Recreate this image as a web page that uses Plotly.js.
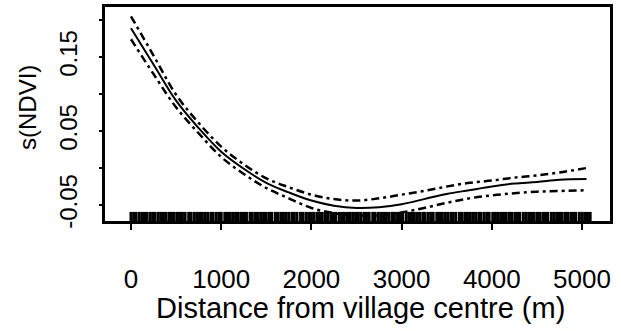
<!DOCTYPE html>
<html>
<head>
<meta charset="utf-8">
<script src="https://cdn.plot.ly/plotly-3.0.1.min.js"></script>
<style>html,body{margin:0;padding:0;background:#fff;}#chart{width:621px;height:331px;}</style>
</head>
<body>
<div id="chart"></div>
<script>
// Distance from village centre (m)
var distance = [0, 250, 500, 750, 1000, 1250, 1500, 1750, 2000, 2250, 2500, 2750, 3000, 3250, 3500, 3750, 4000, 4250, 4500, 4750, 5050];
// Smooth term estimate s(NDVI)
var fit = [0.189, 0.140, 0.091, 0.054, 0.022, -0.001, -0.020, -0.033, -0.044, -0.051, -0.054, -0.053, -0.049, -0.042, -0.035, -0.030, -0.025, -0.021, -0.019, -0.016, -0.015];
// Upper and lower confidence bands
var upper = [0.205, 0.152, 0.099, 0.061, 0.029, 0.005, -0.014, -0.026, -0.036, -0.042, -0.044, -0.041, -0.036, -0.031, -0.025, -0.020, -0.017, -0.013, -0.010, -0.006, 0.000];
var lower = [0.174, 0.127, 0.082, 0.047, 0.015, -0.008, -0.027, -0.041, -0.054, -0.061, -0.064, -0.064, -0.060, -0.054, -0.047, -0.041, -0.037, -0.034, -0.032, -0.031, -0.030];
// Rug of observed distances
var rug = [0, 30, 55, 90, 120, 150, 175, 210, 240, 265, 300, 330, 360, 390, 425, 450, 480, 515, 545, 570, 600, 640, 665, 700, 730, 760, 790, 820, 850, 885, 910, 945, 975, 1000, 1040, 1070, 1100, 1130, 1160, 1190, 1225, 1250, 1280, 1320, 1345, 1380, 1410, 1440, 1470, 1500, 1535, 1560, 1600, 1625, 1660, 1690, 1720, 1750, 1785, 1810, 1840, 1880, 1905, 1940, 1970, 2000, 2030, 2065, 2090, 2120, 2155, 2180, 2215, 2245, 2270, 2310, 2340, 2365, 2400, 2430, 2460, 2490, 2520, 2550, 2585, 2610, 2640, 2680, 2705, 2740, 2770, 2800, 2830, 2860, 2895, 2920, 2955, 2985, 3010, 3050, 3080, 3110, 3140, 3170, 3200, 3235, 3260, 3295, 3325, 3350, 3390, 3420, 3450, 3480, 3510, 3545, 3570, 3600, 3640, 3665, 3700, 3730, 3760, 3790, 3820, 3855, 3880, 3915, 3945, 3970, 4010, 4040, 4070, 4100, 4130, 4160, 4195, 4220, 4255, 4285, 4310, 4350, 4380, 4410, 4440, 4470, 4505, 4530, 4565, 4595, 4620, 4660, 4690, 4720, 4750, 4780, 4815, 4840, 4875, 4905, 4930, 4970, 5000, 5030, 5060, 5090];
var xTicks = [0, 1000, 2000, 3000, 4000, 5000];
var xTickText = ['0', '1000', '2000', '3000', '4000', '5000'];
var yTicks = [-0.05, 0, 0.05, 0.10, 0.15, 0.20];
var yTickText = ['-0.05', '', '0.05', '', '0.15', ''];

var yMin = -0.0716, yMax = 0.2176;
var rugY = rug.map(function(){ return yMin; });

var traces = [
  {x: rug, y: rugY, type: 'scatter', mode: 'markers', hoverinfo: 'skip',
   marker: {symbol: 'line-ns', size: 13, color: '#000', line: {color: '#000', width: 3}}},
  {x: distance, y: upper, type: 'scatter', mode: 'lines', line: {color: '#000', width: 2.5, dash: '8px,4px,3px,4px', shape: 'spline'}},
  {x: distance, y: lower, type: 'scatter', mode: 'lines', line: {color: '#000', width: 2.5, dash: '8px,4px,3px,4px', shape: 'spline'}},
  {x: distance, y: fit, type: 'scatter', mode: 'lines', line: {color: '#000', width: 2, shape: 'spline'}}
];

var font = {family: 'Liberation Sans, Arial, sans-serif', color: '#000'};
var layout = {
  width: 621, height: 331,
  margin: {l: 105, r: 11, t: 7, b: 110},
  paper_bgcolor: '#fff', plot_bgcolor: '#fff',
  showlegend: false,
  font: font,
  xaxis: {
    range: [-288, 5310], showgrid: false, zeroline: false,
    showline: true, mirror: true, linecolor: '#000', linewidth: 3,
    tickmode: 'array', tickvals: xTicks, ticktext: xTickText,
    ticks: 'outside', ticklen: 6, tickwidth: 2, tickcolor: '#000',
    ticklabelstandoff: 27,
    tickfont: {family: font.family, size: 26, color: '#000'}
  },
  yaxis: {
    range: [yMin, yMax], showgrid: false, zeroline: false,
    showline: true, mirror: true, linecolor: '#000', linewidth: 3,
    tickmode: 'array', tickvals: yTicks, ticktext: yTickText,
    ticks: 'outside', ticklen: 3, tickwidth: 1.5, tickcolor: '#000',
    tickangle: -90, ticklabelstandoff: 12,
    tickfont: {family: font.family, size: 24, color: '#000'}
  },
  annotations: [
    {text: 'Distance from village centre (m)', xref: 'paper', yref: 'paper', x: 0.5, y: 0, xshift: 3,
     yshift: -87, xanchor: 'center', yanchor: 'middle', showarrow: false,
     font: {family: font.family, size: 29, color: '#000'}},
    {text: 's(NDVI)', xref: 'paper', yref: 'paper', x: 0, y: 0.5, xshift: -78, yshift: 6,
     xanchor: 'center', yanchor: 'middle', textangle: -90, showarrow: false,
     font: {family: font.family, size: 24, color: '#000'}}
  ]
};
Plotly.newPlot('chart', traces, layout, {displayModeBar: false, staticPlot: true});
</script>
</body>
</html>
